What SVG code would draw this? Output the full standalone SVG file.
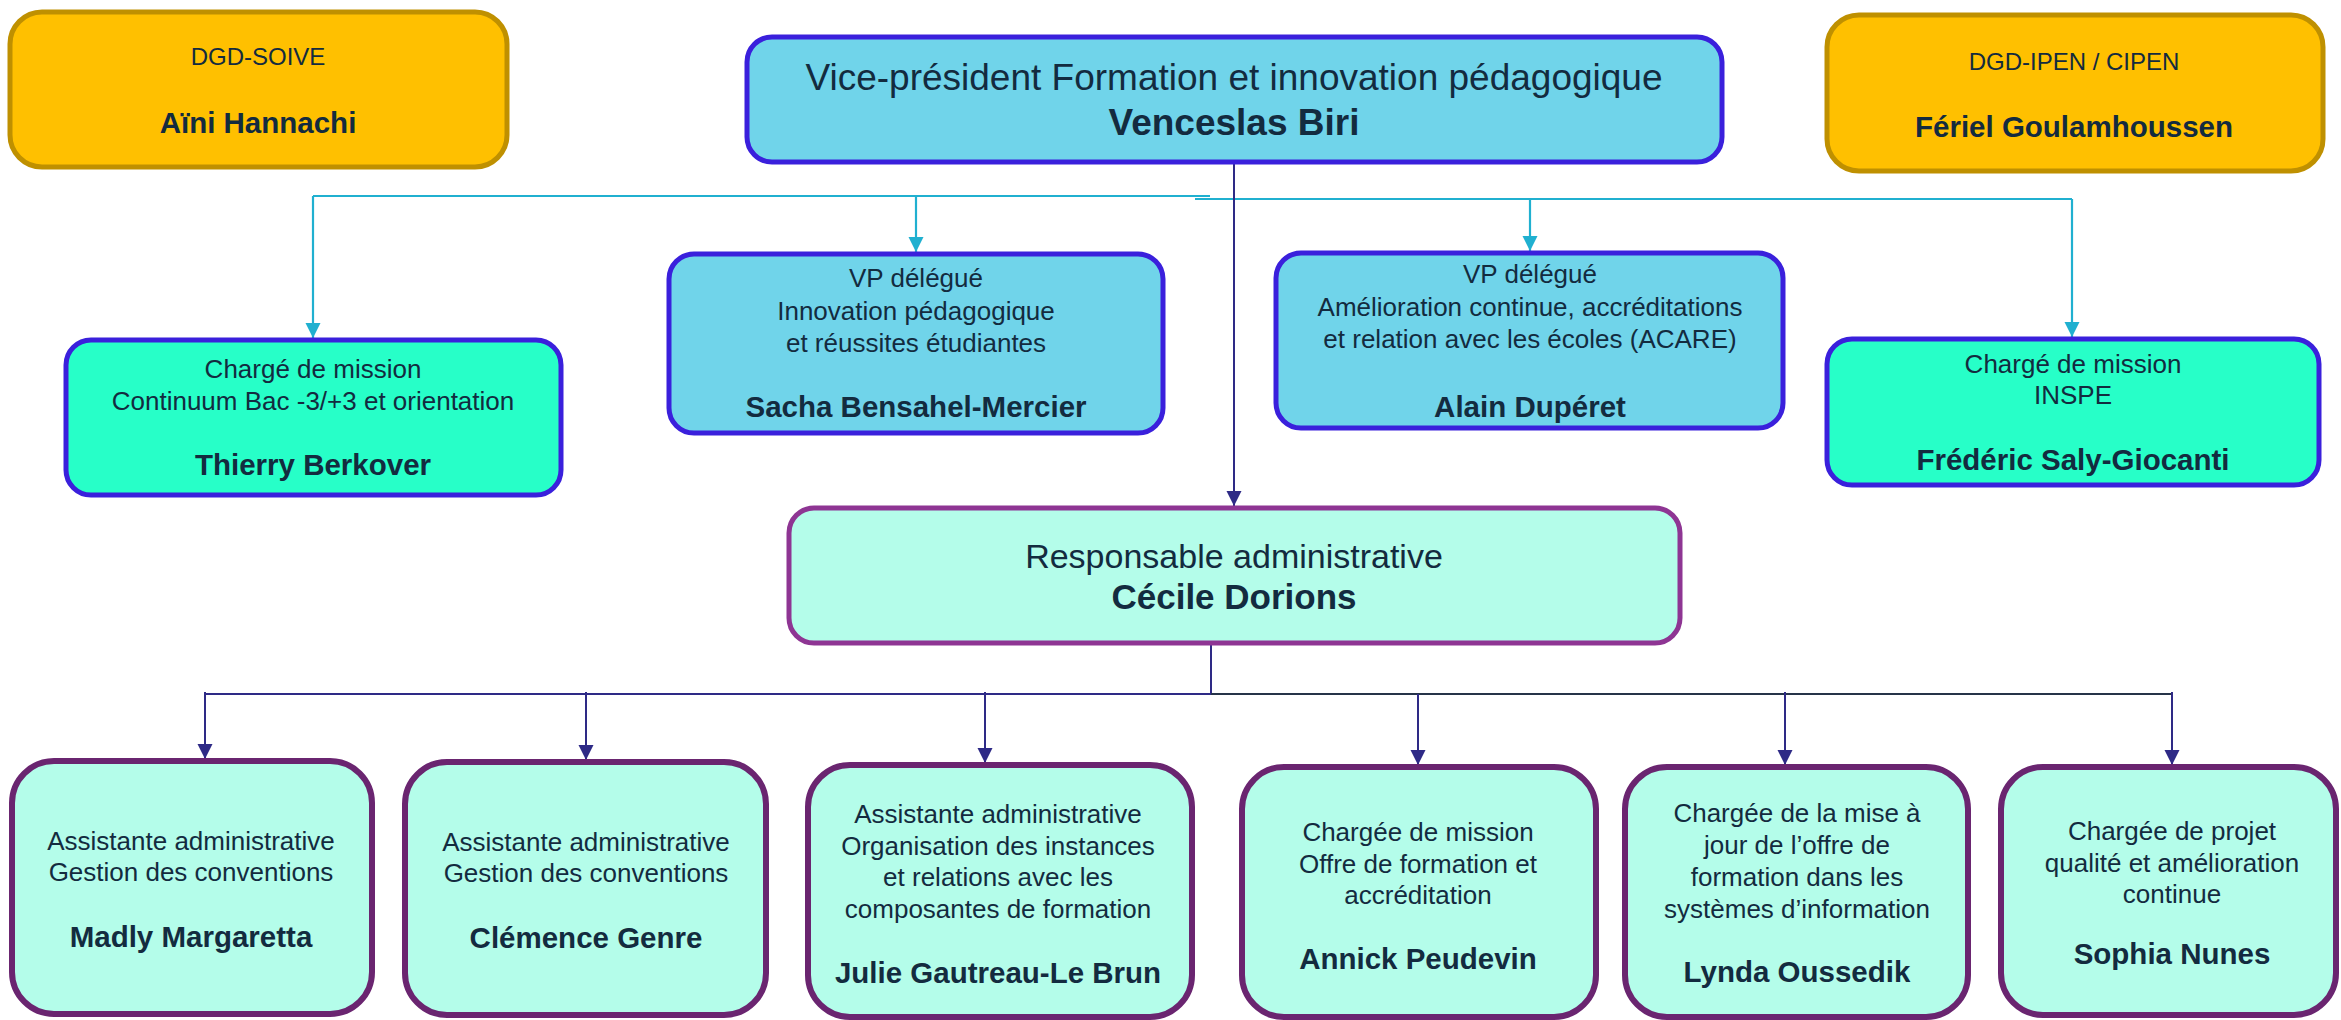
<svg xmlns="http://www.w3.org/2000/svg" width="2341" height="1020" viewBox="0 0 2341 1020">
<style>
text{font-family:"Liberation Sans",Arial,sans-serif;fill:#132b3f;text-anchor:middle}
.t{font-size:26px}
.b{font-size:29.5px;font-weight:bold}
.tt{font-size:24px}
.big{font-size:37px}
.mid{font-size:34px}
.midb{font-size:35px;font-weight:bold}
.bigb{font-size:37px;font-weight:bold}
.org{fill:#ffc000;stroke:#bf9000;stroke-width:5}
.blu{fill:#70d4ea;stroke:#3a20dc;stroke-width:5}
.grn{fill:#27ffc8;stroke:#3a20dc;stroke-width:5}
.res{fill:#b4fdea;stroke:#8e3593;stroke-width:5}
.sub{fill:#b4fdea;stroke:#6a2570;stroke-width:6}
.cy{fill:none;stroke:#20b0d0;stroke-width:2.2}
.nv{fill:none;stroke:#2e2a86;stroke-width:2}
</style>
<defs>
<marker id="ac" markerUnits="userSpaceOnUse" markerWidth="16" markerHeight="16" refX="15" refY="7.5" orient="auto"><path d="M0,0 L15,7.5 L0,15 z" fill="#20b0d0"/></marker>
<marker id="an" markerUnits="userSpaceOnUse" markerWidth="16" markerHeight="16" refX="15" refY="7.5" orient="auto"><path d="M0,0 L15,7.5 L0,15 z" fill="#2e2a86"/></marker>
</defs>
<g id="connectors">
<path class="cy" d="M313 196 H1210"/>
<path class="cy" d="M1195 199 H2072"/>
<path class="cy" d="M313 196 V338" marker-end="url(#ac)"/>
<path class="cy" d="M916 196 V252" marker-end="url(#ac)"/>
<path class="cy" d="M1530 199 V251" marker-end="url(#ac)"/>
<path class="cy" d="M2072 199 V337" marker-end="url(#ac)"/>
<path class="nv" d="M1234 162 V506" marker-end="url(#an)"/>
<path class="nv" d="M1211 645 V694 H205"/>
<path fill="none" stroke="#263448" stroke-width="2" d="M1211 694 H2172"/>
<path class="nv" d="M205 692 V759" marker-end="url(#an)"/>
<path class="nv" d="M586 692 V760" marker-end="url(#an)"/>
<path class="nv" d="M985 692 V763" marker-end="url(#an)"/>
<path class="nv" d="M1418 694 V765" marker-end="url(#an)"/>
<path class="nv" d="M1785 692 V765" marker-end="url(#an)"/>
<path class="nv" d="M2172 692 V765" marker-end="url(#an)"/>
</g>
<g id="aini">
<rect class="org" x="10" y="12" width="497" height="155" rx="32"/>
<text class="tt" x="258" y="65">DGD-SOIVE</text>
<text class="b" x="258" y="133">Aïni Hannachi</text>
</g>
<g id="vp">
<rect class="blu" x="747" y="37" width="975" height="125" rx="25"/>
<text class="big" x="1234" y="90">Vice-président Formation et innovation pédagogique</text>
<text class="bigb" x="1234" y="135">Venceslas Biri</text>
</g>
<g id="feriel">
<rect class="org" x="1827" y="15" width="496" height="156" rx="32"/>
<text class="tt" x="2074" y="70">DGD-IPEN / CIPEN</text>
<text class="b" x="2074" y="137">Fériel Goulamhoussen</text>
</g>
<g id="thierry">
<rect class="grn" x="66" y="340" width="495" height="155" rx="25"/>
<text class="t" x="313" y="378">Chargé de mission</text>
<text class="t" x="313" y="410">Continuum Bac -3/+3 et orientation</text>
<text class="b" x="313" y="475">Thierry Berkover</text>
</g>
<g id="sacha">
<rect class="blu" x="669" y="254" width="494" height="179" rx="25"/>
<text class="t" x="916" y="287">VP délégué</text>
<text class="t" x="916" y="320">Innovation pédagogique</text>
<text class="t" x="916" y="352">et réussites étudiantes</text>
<text class="b" x="916" y="417">Sacha Bensahel-Mercier</text>
</g>
<g id="alain">
<rect class="blu" x="1276" y="253" width="507" height="175" rx="25"/>
<text class="t" x="1530" y="283">VP délégué</text>
<text class="t" x="1530" y="316">Amélioration continue, accréditations</text>
<text class="t" x="1530" y="348">et relation avec les écoles (ACARE)</text>
<text class="b" x="1530" y="417">Alain Dupéret</text>
</g>
<g id="frederic">
<rect class="grn" x="1827" y="339" width="492" height="146" rx="25"/>
<text class="t" x="2073" y="373">Chargé de mission</text>
<text class="t" x="2073" y="404">INSPE</text>
<text class="b" x="2073" y="470">Frédéric Saly-Giocanti</text>
</g>
<g id="cecile">
<rect class="res" x="789" y="508" width="891" height="135" rx="25"/>
<text class="mid" x="1234" y="568">Responsable administrative</text>
<text class="midb" x="1234" y="609">Cécile Dorions</text>
</g>
<g id="madly">
<rect class="sub" x="12" y="761" width="360" height="253" rx="42"/>
<text class="t" x="191" y="850">Assistante administrative</text>
<text class="t" x="191" y="881">Gestion des conventions</text>
<text class="b" x="191" y="947">Madly Margaretta</text>
</g>
<g id="clemence">
<rect class="sub" x="405" y="762" width="361" height="253" rx="42"/>
<text class="t" x="586" y="851">Assistante administrative</text>
<text class="t" x="586" y="882">Gestion des conventions</text>
<text class="b" x="586" y="948">Clémence Genre</text>
</g>
<g id="julie">
<rect class="sub" x="808" y="765" width="384" height="252" rx="42"/>
<text class="t" x="998" y="823">Assistante administrative</text>
<text class="t" x="998" y="855">Organisation des instances</text>
<text class="t" x="998" y="886">et relations avec les</text>
<text class="t" x="998" y="918">composantes de formation</text>
<text class="b" x="998" y="983">Julie Gautreau-Le Brun</text>
</g>
<g id="annick">
<rect class="sub" x="1242" y="767" width="354" height="250" rx="42"/>
<text class="t" x="1418" y="841">Chargée de mission</text>
<text class="t" x="1418" y="873">Offre de formation et</text>
<text class="t" x="1418" y="904">accréditation</text>
<text class="b" x="1418" y="969">Annick Peudevin</text>
</g>
<g id="lynda">
<rect class="sub" x="1625" y="767" width="343" height="250" rx="42"/>
<text class="t" x="1797" y="822">Chargée de la mise à</text>
<text class="t" x="1797" y="854">jour de l’offre de</text>
<text class="t" x="1797" y="886">formation dans les</text>
<text class="t" x="1797" y="918">systèmes d’information</text>
<text class="b" x="1797" y="982">Lynda Oussedik</text>
</g>
<g id="sophia">
<rect class="sub" x="2001" y="767" width="335" height="248" rx="42"/>
<text class="t" x="2172" y="840">Chargée de projet</text>
<text class="t" x="2172" y="872">qualité et amélioration</text>
<text class="t" x="2172" y="903">continue</text>
<text class="b" x="2172" y="964">Sophia Nunes</text>
</g>
</svg>
